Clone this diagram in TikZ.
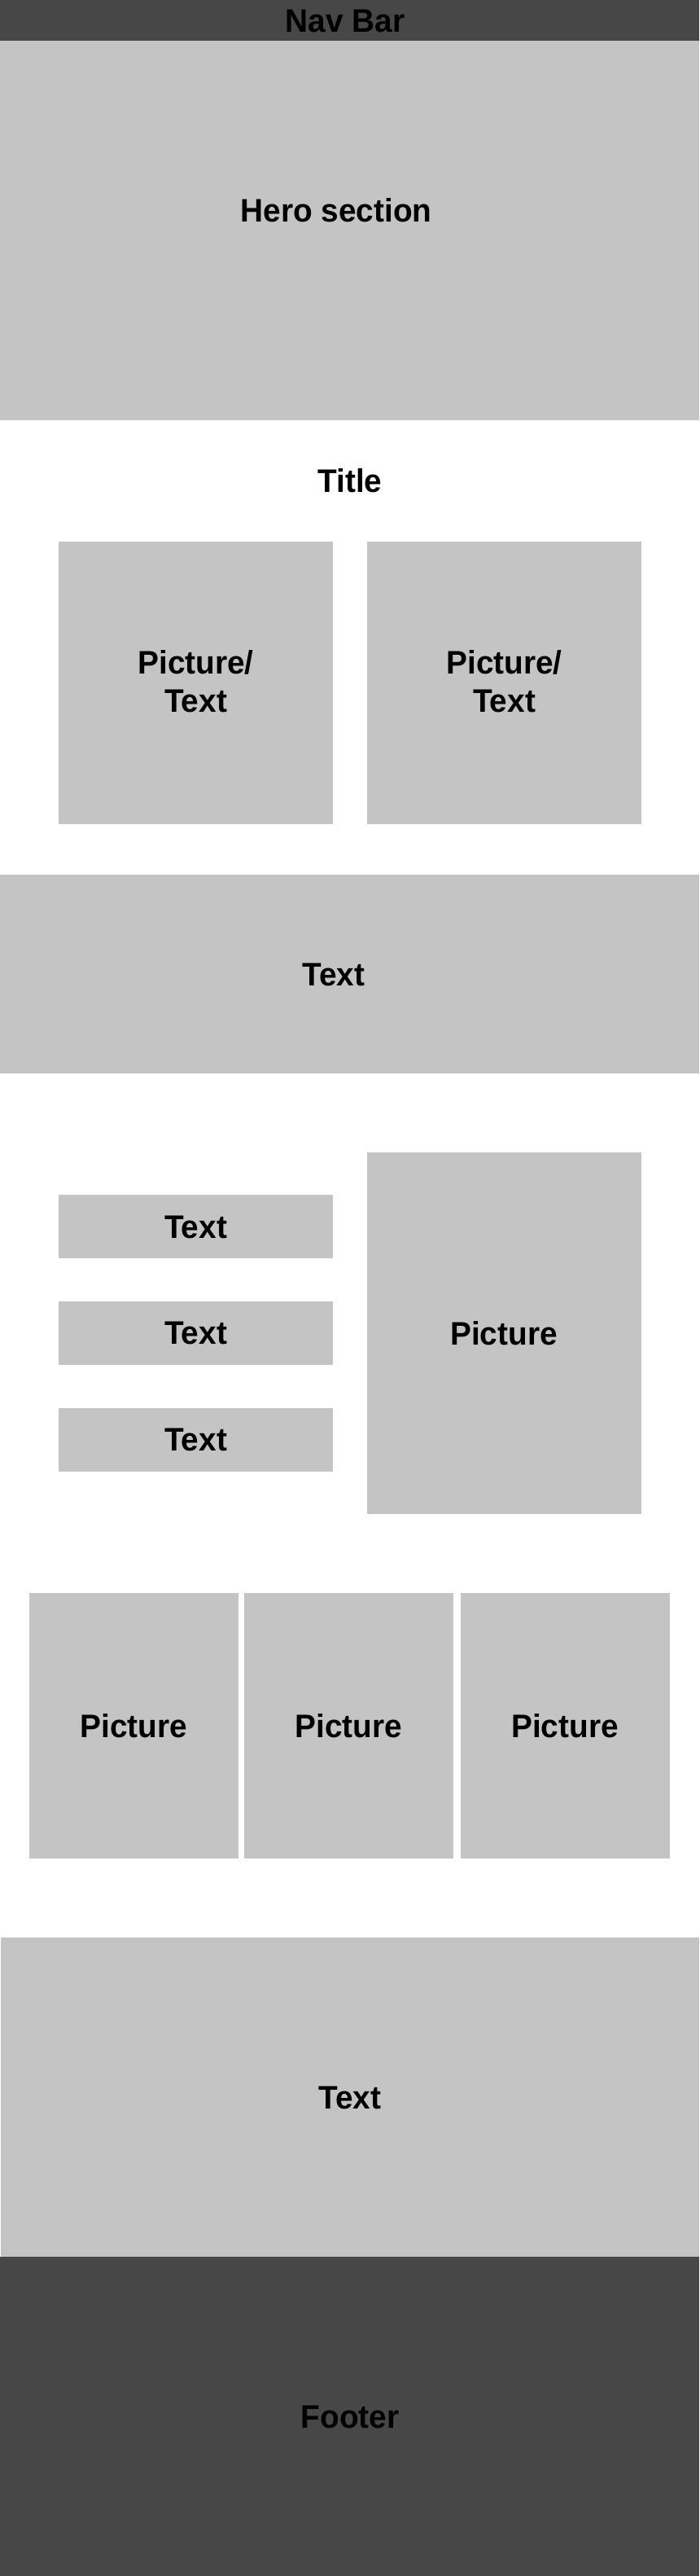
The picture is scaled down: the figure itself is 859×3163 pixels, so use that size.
\documentclass[tikz,border=0pt]{standalone}
\usepackage{fontspec}
\setmainfont{Liberation Sans}[FakeStretch=0.97]
\definecolor{lightgr}{HTML}{C4C4C4}
\definecolor{darkgr}{HTML}{474747}
\tikzset{
  blk/.style={anchor=north west, inner sep=0pt, outer sep=0pt, draw=none},
  lightbox/.style={blk, fill=lightgr},
  darkbox/.style={blk, fill=darkgr},
  lbl/.style={anchor=base, inner sep=0pt, outer sep=0pt, text=black,
    font=\fontsize{40pt}{47pt}\selectfont\bfseries, align=center}
}
\begin{document}
\begin{tikzpicture}[x=1pt,y=-1pt]
\useasboundingbox (0,0) rectangle (859,3163);
\fill[white] (0,0) rectangle (859,3163);
% Nav bar and hero
\node[darkbox, minimum width=859pt, minimum height=50pt] (nav) at (0,0) {};
\node[lightbox, minimum width=859pt, minimum height=466pt] (hero) at (0,50) {};
\node[lbl] (navlbl) at (424,39.3) {Nav Bar};
\node[lbl] (herolbl) at (413,272.7) {Hero section};
% Title and two boxes
\node[lbl] (title) at (430,604) {Title};
\node[lightbox, minimum width=337pt, minimum height=347pt] (pt1) at (72,665) {};
\node[lightbox, minimum width=337pt, minimum height=347pt] (pt2) at (451,665) {};
\node[lbl] (pt1lbl) at (240.5,874.3) {Picture/\\Text};
\node[lbl] (pt2lbl) at (619.5,874.3) {Picture/\\Text};
% Text band
\node[lightbox, minimum width=859pt, minimum height=244pt] (band) at (0,1074) {};
\node[lbl] (bandlbl) at (410,1210) {Text};
% Text list and picture
\node[lightbox, minimum width=337pt, minimum height=78pt] (t1) at (72,1467) {};
\node[lightbox, minimum width=337pt, minimum height=78pt] (t2) at (72,1598) {};
\node[lightbox, minimum width=337pt, minimum height=78pt] (t3) at (72,1729) {};
\node[lbl] (t1lbl) at (240.5,1520) {Text};
\node[lbl] (t2lbl) at (240.5,1650.7) {Text};
\node[lbl] (t3lbl) at (240.5,1781.7) {Text};
\node[lightbox, minimum width=337pt, minimum height=444pt] (pic) at (451,1415) {};
\node[lbl] (piclbl) at (619,1651) {Picture};
% Three pictures
\node[lightbox, minimum width=257pt, minimum height=326pt] (p1) at (36,1956) {};
\node[lightbox, minimum width=257pt, minimum height=326pt] (p2) at (300,1956) {};
\node[lightbox, minimum width=257pt, minimum height=326pt] (p3) at (566,1956) {};
\node[lbl] (p1lbl) at (164.5,2133) {Picture};
\node[lbl] (p2lbl) at (428.5,2133) {Picture};
\node[lbl] (p3lbl) at (694,2133) {Picture};
% Bottom text and footer
\node[lightbox, minimum width=858pt, minimum height=392pt] (btext) at (1,2379) {};
\node[lbl] (btextlbl) at (430,2589) {Text};
\node[darkbox, minimum width=859pt, minimum height=392pt] (footer) at (0,2771) {};
\node[lbl] (footlbl) at (430,2981.7) {Footer};
\end{tikzpicture}
\end{document}
